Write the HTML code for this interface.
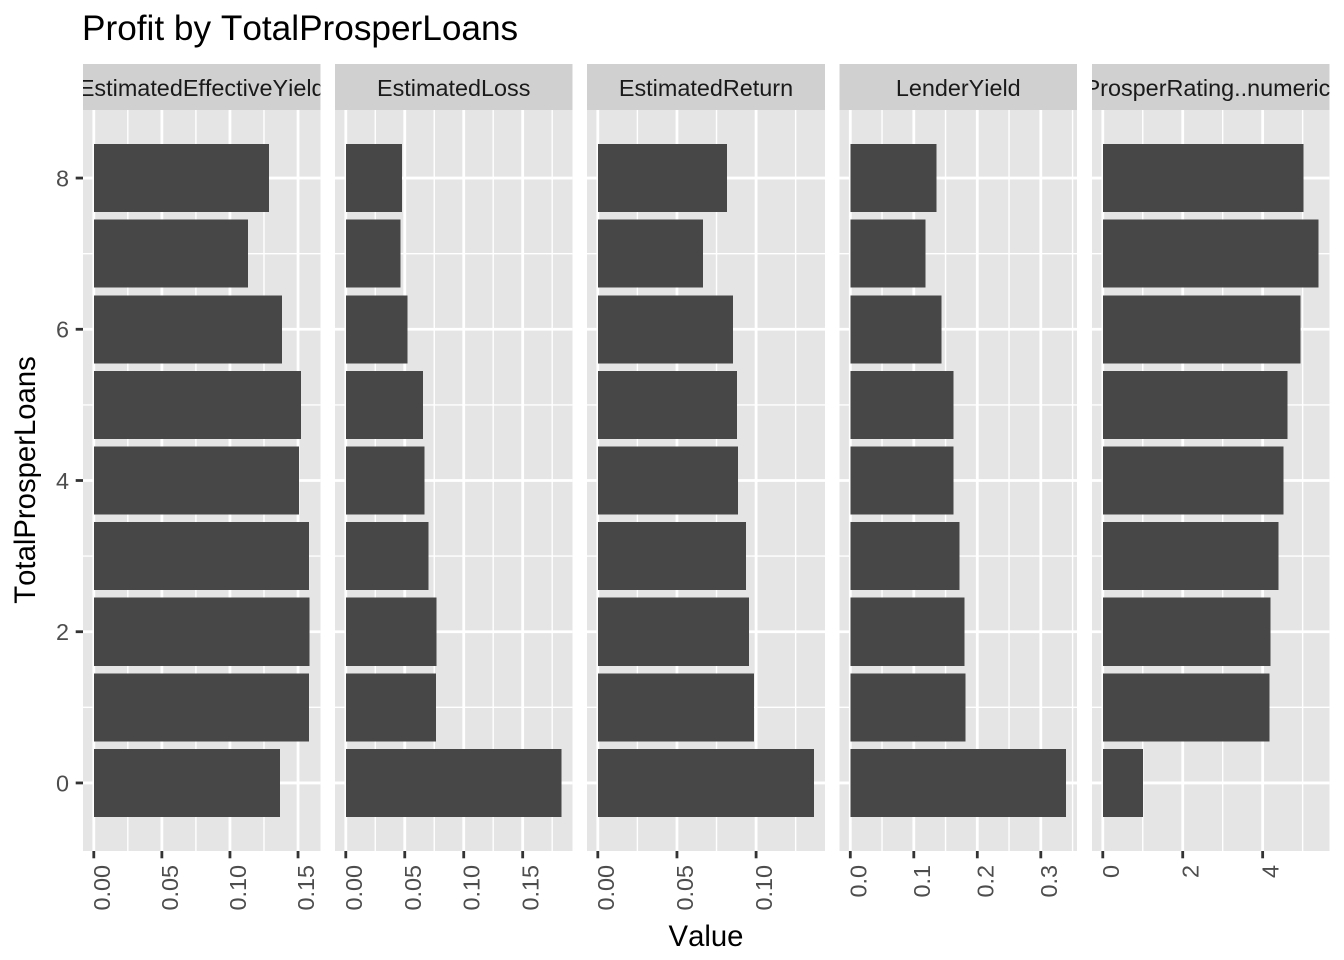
<!DOCTYPE html>
<html lang="en">
<head>
<meta charset="utf-8">
<title>Profit by TotalProsperLoans</title>
<style>
html,body{margin:0;padding:0;background:#fff;}
svg{display:block;font-family:"Liberation Sans",Arial,sans-serif;font-kerning:none;}
svg text{font-kerning:none;}
</style>
</head>
<body>
<svg id="chart" xmlns="http://www.w3.org/2000/svg" width="1344" height="960" viewBox="0 0 1344 960">
  <rect width="1344" height="960" fill="#ffffff"/>
  <text x="82" y="40" font-size="35.2" fill="#000">Profit by TotalProsperLoans</text>
  <text x="706" y="946" font-size="29.3" fill="#000" text-anchor="middle">Value</text>
  <text transform="translate(35,480) rotate(-90)" font-size="29.3" fill="#000" text-anchor="middle">TotalProsperLoans</text>
</svg>
<script>
const categories = [0, 1, 2, 3, 4, 5, 6, 7, 8];
const yTickLabels = [0, 2, 4, 6, 8];
const yMinorTicks = [1, 3, 5, 7];

const facetNames = ["EstimatedEffectiveYield", "EstimatedLoss", "EstimatedReturn", "LenderYield", "ProsperRating..numeric."];

const effectiveYieldValues = [0.1368, 0.1581, 0.1585, 0.1581, 0.1507, 0.1522, 0.1382, 0.1132, 0.1287];
const estimatedLossValues = [0.183, 0.0763, 0.0771, 0.0703, 0.0669, 0.0653, 0.0525, 0.0466, 0.0475];
const estimatedReturnValues = [0.1367, 0.0987, 0.0956, 0.0937, 0.0886, 0.0880, 0.0854, 0.0665, 0.0816];
const lenderYieldValues = [0.34, 0.1817, 0.1801, 0.1722, 0.1627, 0.1627, 0.1438, 0.1185, 0.1359];
const prosperRatingValues = [1, 4.175, 4.2, 4.4, 4.525, 4.625, 4.95, 5.4, 5.025];

const effectiveYieldTicks = ["0.00", "0.05", "0.10", "0.15"];
const estimatedLossTicks = ["0.00", "0.05", "0.10", "0.15"];
const estimatedReturnTicks = ["0.00", "0.05", "0.10"];
const lenderYieldTicks = ["0.0", "0.1", "0.2", "0.3"];
const prosperRatingTicks = ["0", "2", "4"];

const seriesByFacet = [effectiveYieldValues, estimatedLossValues, estimatedReturnValues, lenderYieldValues, prosperRatingValues];
const ticksByFacet = [effectiveYieldTicks, estimatedLossTicks, estimatedReturnTicks, lenderYieldTicks, prosperRatingTicks];

const svg = document.getElementById('chart');
const NS = 'http://www.w3.org/2000/svg';
const panelTop = 110, panelBottom = 851, stripTop = 64;
const panelEdges = [[83, 320.4], [335, 572.4], [587, 825], [839.5, 1077], [1092, 1329.4]];
const barFraction = 0.9;
const yDomain = [-0.9, 8.9];

function yScale(v) {
  return panelBottom - (v - yDomain[0]) / (yDomain[1] - yDomain[0]) * (panelBottom - panelTop);
}
function makeXScale(values, edges) {
  const maxV = Math.max(...values);
  const lo = -0.05 * maxV, hi = 1.05 * maxV;
  return v => edges[0] + (v - lo) / (hi - lo) * (edges[1] - edges[0]);
}
function add(parent, tag, attrs, text) {
  const el = document.createElementNS(NS, tag);
  for (const k in attrs) el.setAttribute(k, attrs[k]);
  if (text !== undefined) el.textContent = text;
  parent.appendChild(el);
  return el;
}

const defs = add(svg, 'defs', {});

facetNames.forEach((facet, i) => {
  const edges = panelEdges[i];
  const values = seriesByFacet[i];
  const ticks = ticksByFacet[i];
  const x = makeXScale(values, edges);
  const left = edges[0], right = edges[1];

  const group = add(svg, 'g', {});
  
  

  const strip = add(group, 'rect', {x: left, y: stripTop, width: right - left, height: panelTop - stripTop, fill: '#d0d0d0', 'shape-rendering': 'crispEdges'});
  
  

  const clip = add(defs, 'clipPath', {id: 'strip-clip-' + i});
  add(clip, 'rect', {x: left, y: stripTop, width: right - left, height: panelTop - stripTop});

  const label = add(group, 'text', {x: (left + right) / 2, y: 96, 'font-size': 23.4, fill: '#1a1a1a', 'text-anchor': 'middle', 'clip-path': 'url(#strip-clip-' + i + ')'}, facet);
  
  

  const bg = add(group, 'rect', {x: left, y: panelTop, width: right - left, height: panelBottom - panelTop, fill: '#e5e5e5', 'shape-rendering': 'crispEdges'});
  
  

  const tickNums = ticks.map(Number);
  const step = tickNums[1] - tickNums[0];

  // minor vertical gridlines at half steps across the visible range
  for (let k = 0; k < 12; k++) {
    const mv = (k + 0.5) * step;
    const mx = x(mv);
    if (mx < right) {
      const g = add(group, 'line', {x1: mx, x2: mx, y1: panelTop, y2: panelBottom, stroke: '#fff', 'stroke-width': 1.4});
      
      
    }
  }
  yMinorTicks.forEach(v => {
    const g = add(group, 'line', {x1: left, x2: right, y1: yScale(v), y2: yScale(v), stroke: '#fff', 'stroke-width': 1.4});
    
    
  });
  ticks.forEach((t, k) => {
    const tx = x(tickNums[k]);
    const g = add(group, 'line', {x1: tx, x2: tx, y1: panelTop, y2: panelBottom, stroke: '#fff', 'stroke-width': 2.8});
    
    
  });
  yTickLabels.forEach(v => {
    const g = add(group, 'line', {x1: left, x2: right, y1: yScale(v), y2: yScale(v), stroke: '#fff', 'stroke-width': 2.8});
    
    
  });

  categories.forEach((c, k) => {
    const top = yScale(c + barFraction / 2);
    const bottom = yScale(c - barFraction / 2);
    const bar = add(group, 'rect', {x: x(0), y: top, width: x(values[k]) - x(0), height: bottom - top, fill: '#474747', 'shape-rendering': 'crispEdges'});
    
    
  });

  ticks.forEach((t, k) => {
    const tx = x(tickNums[k]);
    const tick = add(group, 'line', {x1: tx, x2: tx, y1: panelBottom, y2: panelBottom + 7.3, stroke: '#333', 'stroke-width': 2.8});
    
    
    const tl = add(group, 'text', {transform: 'translate(' + (tx + 16) + ',865) rotate(-90)', 'font-size': 23.4, fill: '#4d4d4d', 'text-anchor': 'end'}, t);
    
    
  });
});

yTickLabels.forEach(v => {
  const py = yScale(v);
  const tick = add(svg, 'line', {x1: 75.7, x2: 83, y1: py, y2: py, stroke: '#333', 'stroke-width': 2.8});
  
  
  const tl = add(svg, 'text', {x: 69, y: py + 8.4, 'font-size': 23.4, fill: '#4d4d4d', 'text-anchor': 'end'}, v);
  
  
});
</script>
</body>
</html>
